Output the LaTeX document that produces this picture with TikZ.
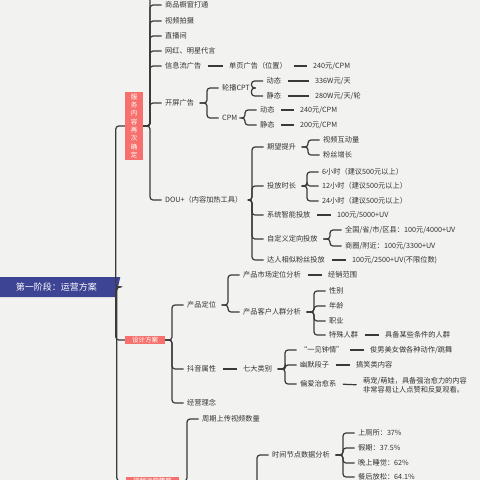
\documentclass[tikz,border=0pt]{standalone}
\usepackage{fontspec}
\newfontfamily\cjk{Noto Sans CJK SC}
\usetikzlibrary{shapes.geometric}
\definecolor{bgc}{HTML}{F2F2F1}
\definecolor{linec}{HTML}{3A3A3A}
\definecolor{rootc}{HTML}{3D4494}
\definecolor{redc}{HTML}{F6716D}
\definecolor{txtc}{HTML}{333333}
\tikzset{
  txt/.style={font=\cjk\fontsize{7.2}{8.6}\selectfont, text=txtc, inner sep=1.5pt, anchor=west},
  lnk/.style={draw=linec, line width=1.2pt, rounded corners=3pt},
  one/.style={draw=linec, line width=1.2pt, shorten <=5pt, shorten >=5pt},
  redbox/.style={fill=redc, text=white, font=\cjk\fontsize{6.5}{8.3}\selectfont, inner xsep=7pt, inner ysep=1pt},
  rootbox/.style={trapezium, trapezium left angle=77, trapezium right angle=103, fill=rootc, text=white,
    font=\cjk\fontsize{9}{10}\selectfont, minimum height=20pt, inner xsep=4pt}
}
\begin{document}
\begin{tikzpicture}[x=1pt,y=-1pt]
\useasboundingbox (0,0) rectangle (480,480);
\fill[bgc] (0,0) rectangle (480,480);
\clip (0,0) rectangle (480,480);

\node[rootbox] (root) at (56.5,287) {第一阶段：运营方案};
\node[redbox, align=center, minimum width=18pt, minimum height=68pt, inner xsep=2pt] (b1) at (134,126)
  {服\\务\\内\\容\\再\\次\\确\\定};
\node[redbox] (b2) at (145,340) {设计方案};
\node[redbox] (b3) at (152.5,481) {视频运营策略};

% branch 1
\node[txt] (n11) at (163.5,5) {商品橱窗打通};
\node[txt] (n12) at (163.5,21) {视频拍摄};
\node[txt] (n13) at (163.5,36) {直播间};
\node[txt] (n14) at (163.5,51) {网红、明星代言};
\node[txt] (n15) at (163.5,66) {信息流广告};
\node[txt] (n16) at (163.5,103) {开屏广告};
\node[txt] (n17) at (163.5,200) {DOU+（内容加热工具）};
\node[txt] (ad1) at (227.5,66) {单页广告（位置）};
\node[txt] (ad1v) at (311.5,66) {240元/CPM};
\node[txt] (lb) at (220.5,88) {轮播CPT};
\node[txt] (cpa) at (220.5,118) {CPM};
\node[txt] (dt1) at (265,81) {动态};
\node[txt] (jt1) at (265,96) {静态};
\node[txt] (v336) at (313.5,81) {336W元/天};
\node[txt] (v280) at (313.5,96) {280W元/天/轮};
\node[txt] (dt2) at (258.5,110) {动态};
\node[txt] (jt2) at (258.5,125) {静态};
\node[txt] (v240) at (298.5,110) {240元/CPM};
\node[txt] (v200) at (298.5,125) {200元/CPM};
\node[txt] (qw) at (265.5,147) {期望提升};
\node[txt] (tf) at (265.5,186) {投放时长};
\node[txt] (xt) at (265.5,215) {系统智能投放};
\node[txt] (zd) at (265.5,239) {自定义定向投放};
\node[txt] (dr) at (265.5,260) {达人相似粉丝投放};
\node[txt] (hd) at (321.5,140) {视频互动量};
\node[txt] (fs) at (321.5,155) {粉丝增长};
\node[txt] (h6) at (320.5,172) {6小时（建议500元以上）};
\node[txt] (h12) at (320.5,186) {12小时（建议500元以上）};
\node[txt] (h24) at (320.5,201) {24小时（建议500元以上）};
\node[txt] (v5000) at (335.5,215) {100元/5000+UV};
\node[txt] (qg) at (343.5,230) {全国/省/市/区县：100元/4000+UV};
\node[txt] (sq) at (343.5,246) {商圈/附近：100元/3300+UV};
\node[txt] (v2500) at (350.5,260) {100元/2500+UV(不限位数)};

% branch 2
\node[txt] (cp) at (185.5,305) {产品定位};
\node[txt] (dyx) at (185.5,369) {抖音属性};
\node[txt] (jy) at (185.5,403) {经营理念};
\node[txt] (scfx) at (241.5,275) {产品市场定位分析};
\node[txt] (khfx) at (241.5,312) {产品客户人群分析};
\node[txt] (jxfw) at (326.5,275) {经销范围};
\node[txt] (xb) at (327.5,291) {性别};
\node[txt] (nl) at (327.5,306) {年龄};
\node[txt] (zy) at (327.5,321) {职业};
\node[txt] (tsrq) at (327.5,335) {特殊人群};
\node[txt] (jbtj) at (383.5,335) {具备某些条件的人群};
\node[txt] (qdlb) at (241.5,369) {七大类别};
\node[txt] (yj) at (298.5,350) {“一见钟情”};
\node[txt] (ym) at (298.5,365) {幽默段子};
\node[txt] (pa) at (298.5,384) {偏爱治愈系};
\node[txt] (jnmn) at (368.5,350) {俊男美女做各种动作/跳舞};
\node[txt] (gxl) at (354.5,365) {搞笑类内容};
\node[txt, align=left] (mc) at (361.5,385) {萌宠/萌娃，具备强治愈力的内容\\非常容易让人点赞和反复观看。};

% branch 3
\node[txt] (zq) at (200.5,419) {周期上传视频数量};
\node[txt] (sj) at (270.5,455) {时间节点数据分析};
\node[txt] (scs) at (356.5,433) {上厕所：37\%};
\node[txt] (jq) at (356.5,448) {假期：37.5\%};
\node[txt] (ws) at (356.5,463) {晚上睡觉：62\%};
\node[txt] (cf) at (356.5,477) {餐后放松：64.1\%};
\coordinate (b1up) at (150,-20);
\coordinate (b3dn) at (187,520);
\coordinate (sjdn) at (257,520);

% trunk
\foreach \b in {b1,b2,b3}
  \draw[lnk] (\b.west) -- ++(-9,0) |- (root.east);
\draw[lnk] (b1up) |- (b1.east);
\draw[lnk] (b3dn) |- (b3.east);
\foreach \c in {n11,n12,n13,n14,n15,n16,n17}
  \draw[lnk, shorten <=2pt] (\c.west) -- ++(-13.5,0) |- (b1.east);
\foreach \c in {cp,dyx,jy}
  \draw[lnk, shorten <=2pt] (\c.west) -- ++(-13.5,0) |- (b2.east);
\draw[lnk, shorten <=2pt] (zq.west) -- ++(-13.5,0) |- (b3.east);
\draw[lnk, shorten <=2pt] (sj.west) -- ++(-13.5,0) |- (sjdn);

% brackets
\foreach \p/\cs in {n16/{lb,cpa}, lb/{dt1,jt1}, cpa/{dt2,jt2}, n17/{qw,tf,xt,zd,dr},
    qw/{hd,fs}, tf/{h6,h12,h24}, zd/{qg,sq}, cp/{scfx,khfx}, khfx/{xb,nl,zy,tsrq},
    qdlb/{yj,ym,pa}, sj/{scs,jq,ws,cf}}
  \foreach \c in \cs
    \draw[lnk, shorten <=2pt, shorten >=4pt] (\c.west) -- ++(-13.5,0) |- (\p.east);

% single links
\foreach \a/\b in {n15/ad1, ad1/ad1v, dt1/v336, jt1/v280, dt2/v240, jt2/v200, xt/v5000,
    dr/v2500, scfx/jxfw, tsrq/jbtj, dyx/qdlb, yj/jnmn, ym/gxl, pa/mc}
  \draw[one] (\a.east) -- (\b.west);
\end{tikzpicture}
\end{document}
